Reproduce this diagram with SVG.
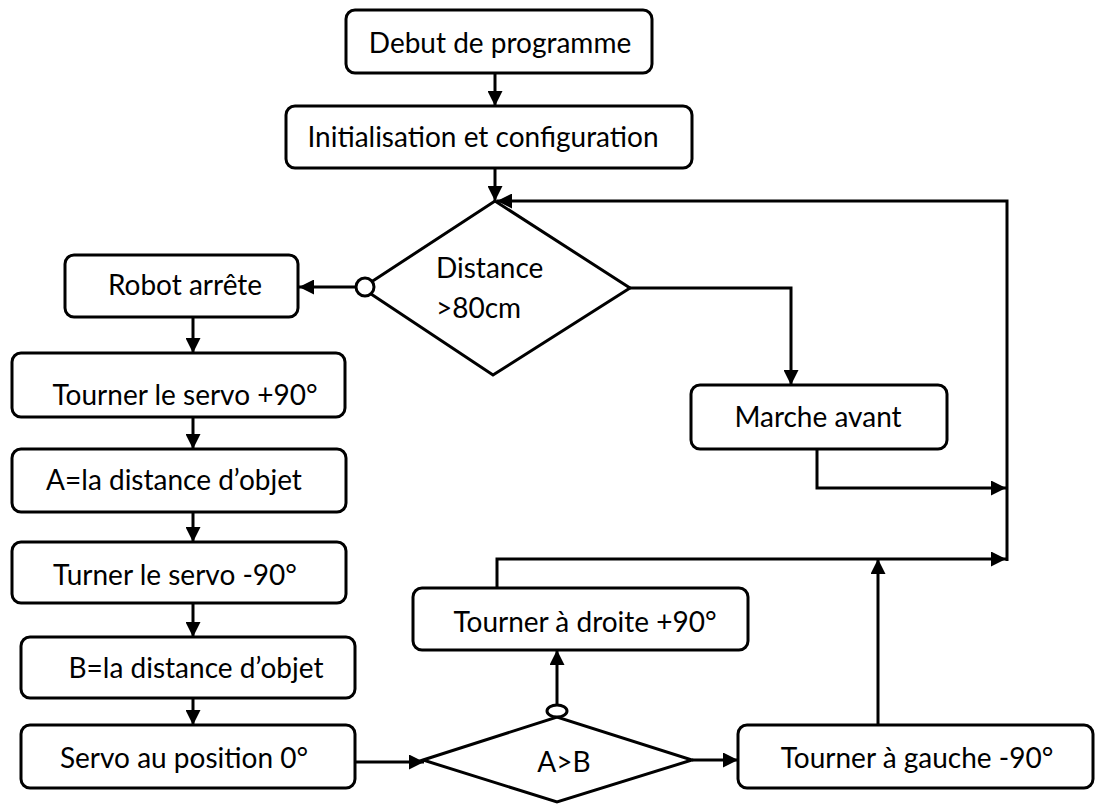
<svg xmlns="http://www.w3.org/2000/svg" width="1095" height="805" viewBox="0 0 1095 805">
<defs>
<marker id="ah" viewBox="0 0 12 12" refX="12" refY="6" markerWidth="15" markerHeight="15" markerUnits="userSpaceOnUse" orient="auto">
<path d="M0,0 L12,6 L0,12 Z" fill="#000"/>
</marker>
<style>
.box{fill:#fff;stroke:#000;stroke-width:3}
.dia{fill:#fff;stroke:#000;stroke-width:3;stroke-linejoin:miter}
.ln{fill:none;stroke:#000;stroke-width:3}
.ar{fill:none;stroke:#000;stroke-width:3;marker-end:url(#ah)}
text{font-family:Lato,"Liberation Sans",sans-serif;font-size:28px;fill:#000}
.c{text-anchor:middle}
</style>
</defs>
<rect width="1095" height="805" fill="#fff"/>
<g id="connectors">
<line class="ar" x1="495" y1="73" x2="495" y2="106"/>
<line class="ar" x1="495" y1="168" x2="495" y2="201"/>
<line class="ar" x1="356" y1="287" x2="299" y2="287"/>
<line class="ar" x1="193" y1="317" x2="193" y2="353"/>
<line class="ar" x1="193" y1="417" x2="193" y2="449"/>
<line class="ar" x1="193" y1="507" x2="193" y2="542"/>
<line class="ar" x1="193" y1="603" x2="193" y2="637"/>
<line class="ar" x1="193" y1="698" x2="193" y2="725"/>
<line class="ar" x1="355" y1="762" x2="424" y2="762"/>
<line class="ar" x1="692" y1="760" x2="738" y2="760"/>
<line class="ar" x1="557" y1="705" x2="557" y2="650"/>
<path class="ar" d="M497,588 V559 H1006"/>
<line class="ar" x1="878" y1="725" x2="878" y2="559"/>
<path class="ar" d="M817,449 V488 H1006"/>
<path class="ar" d="M630,288 H791 V385"/>
<path class="ar" d="M1007,561 V201 H497"/>
</g>
<g id="debut">
<rect class="box" x="346" y="10" width="306" height="63" rx="9"/>
<text class="c" x="500" y="53">Debut de programme</text>
</g>
<g id="init">
<rect class="box" x="286" y="106" width="406" height="62" rx="9"/>
<text class="c" x="483" y="147">Initialisation et configuration</text>
</g>
<g id="distance">
<polygon class="dia" points="495,201 630,288 493,375 362,288"/>
<circle cx="365" cy="287" r="9" fill="#fff" stroke="#000" stroke-width="3"/>
<text x="436" y="278">Distance</text>
<text x="436" y="318">&gt;80cm</text>
</g>
<g id="robot">
<rect class="box" x="65" y="255" width="233" height="62" rx="9"/>
<text class="c" x="185" y="295">Robot arrête</text>
</g>
<g id="servo90">
<rect class="box" x="12" y="353" width="333" height="64" rx="9"/>
<text class="c" x="185" y="405">Tourner le servo +90°</text>
</g>
<g id="a">
<rect class="box" x="12" y="449" width="334" height="63" rx="9"/>
<text class="c" x="174" y="490">A=la distance d’objet</text>
</g>
<g id="turner">
<rect class="box" x="12" y="542" width="334" height="61" rx="9"/>
<text class="c" x="175" y="585">Turner le servo -90°</text>
</g>
<g id="b">
<rect class="box" x="21" y="637" width="334" height="61" rx="9"/>
<text class="c" x="196" y="678">B=la distance d’objet</text>
</g>
<g id="servo0">
<rect class="box" x="21" y="725" width="334" height="63" rx="9"/>
<text class="c" x="184" y="768">Servo au position 0°</text>
</g>
<g id="marche">
<rect class="box" x="691" y="385" width="256" height="64" rx="9"/>
<text class="c" x="818" y="427">Marche avant</text>
</g>
<g id="ab">
<polygon class="dia" points="423,760 557,717 692,760 557,802"/>
<ellipse cx="557" cy="711" rx="10" ry="6" fill="#fff" stroke="#000" stroke-width="3"/>
<text class="c" x="564" y="772">A&gt;B</text>
</g>
<g id="droite">
<rect class="box" x="413" y="588" width="335" height="62" rx="9"/>
<text class="c" x="585" y="632">Tourner à droite +90°</text>
</g>
<g id="gauche">
<rect class="box" x="738" y="725" width="355" height="63" rx="9"/>
<text class="c" x="917" y="768">Tourner à gauche -90°</text>
</g>
</svg>
